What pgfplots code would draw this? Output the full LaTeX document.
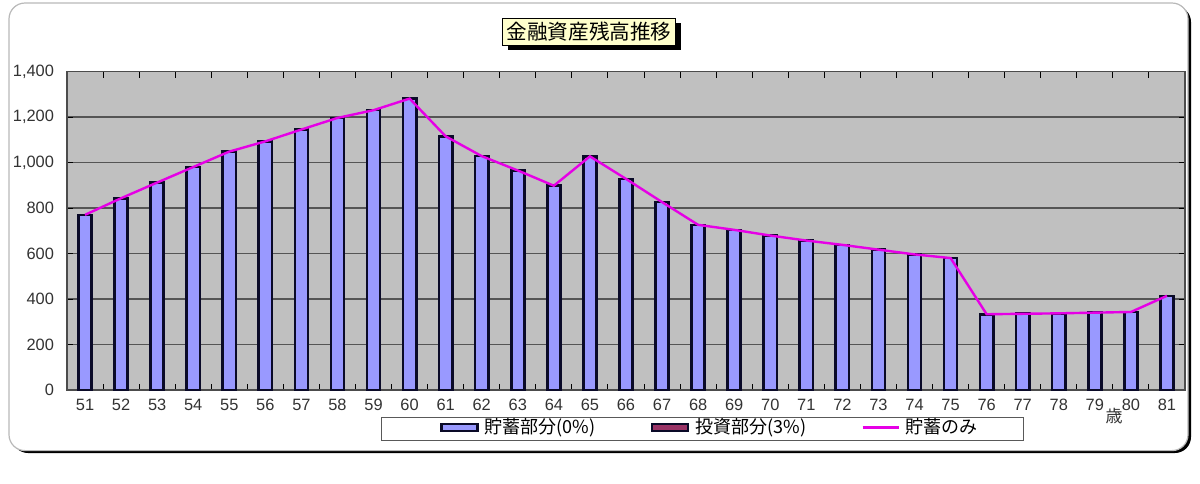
\documentclass[border=0pt]{standalone}
\usepackage{fontspec}
\setmainfont{Liberation Sans}
\newfontfamily\cjk{Noto Sans CJK JP}
\usepackage{pgfplots}
\usepackage{pgfplotstable}
\pgfplotsset{compat=1.18}
\usetikzlibrary{shadows}
\definecolor{barblue}{RGB}{153,153,255}
\definecolor{invmaroon}{RGB}{153,51,102}
\definecolor{plotbg}{RGB}{192,192,192}
\definecolor{gridc}{RGB}{85,85,85}
\definecolor{titlebg}{RGB}{255,255,204}
\definecolor{lineMag}{RGB}{230,0,230}
\definecolor{barEdge}{RGB}{10,10,40}

\pgfplotstableread{
age val
51 770
52 843
53 912
54 980
55 1048
56 1093
57 1145
58 1196
59 1230
60 1281
61 1115
62 1028
63 965
64 898
65 1027
66 928
67 826
68 726
69 704
70 679
71 657
72 638
73 617
74 596
75 580
76 333
77 335
78 337
79 340
80 343
81 414
}\savings

\pgfplotsset{
  barleg/.style={legend image code/.code={\draw[##1] (0pt,-1.7pt) rectangle (18pt,1.7pt);}},
  lineleg/.style={legend image code/.code={\draw[##1] (0pt,0pt) -- (18pt,0pt);}},
}

\begin{document}
\begin{tikzpicture}
\useasboundingbox (0,0) rectangle (600pt,-241.5pt);
% outer frame with shadow
\fill[black, rounded corners=8pt] (6pt,-3pt) rectangle (595.5pt,-226.5pt);
\draw[gray!55, fill=white, rounded corners=8pt, line width=0.6pt] (4.5pt,-1.5pt) rectangle (594pt,-225.3pt);
% title
\node[fill=titlebg, draw=black, line width=0.6pt, minimum width=86.5pt, minimum height=13.5pt, inner sep=0pt,
      drop shadow={shadow xshift=2.5pt, shadow yshift=-2.5pt, fill=black, opacity=1},
      font=\cjk\fontsize{10.3}{12}\selectfont] at (294.5pt,-15.8pt) {金融資産残高推移};
% legend box
\draw[gray!70!black, fill=white, line width=0.5pt] (190.8pt,-208.5pt) rectangle (511.5pt,-220pt);
\begin{axis}[
  at={(33.5pt,-195pt)}, anchor=south west,
  scale only axis, width=559pt, height=159.25pt,
  xmin=50.5, xmax=81.5, ymin=0, ymax=1400,
  xtick={51,...,81},
  minor xtick={51.5,52.5,...,80.5},
  ytick={0,200,...,1400},
  tick align=inside,
  major tick length=3pt, minor tick length=3pt,
  major x tick style={draw=none},
  minor x tick style={black, line width=0.5pt},
  major y tick style={black, line width=0.5pt},
  ymajorgrids,
  major grid style={gridc, line width=0.7pt},
  axis background/.style={fill=plotbg},
  axis line style={gray!60!black, line width=0.6pt},
  /pgf/number format/assume math mode=true,
  /pgf/number format/1000 sep={,},
  xticklabel style={font=\fontsize{8.2}{9}\selectfont, text=black!80, yshift=-1pt},
  yticklabel style={font=\fontsize{8.2}{9}\selectfont, text=black!80, xshift=-3pt},
  legend style={draw=none, fill=none, at={(0.3335,-0.1178)}, anchor=west,
     inner sep=0pt, font=\cjk\fontsize{9}{10}\selectfont, legend columns=3,
     /tikz/every odd column/.append style={column sep=1pt}},
  legend cell align=left,
]
\addplot[ybar, bar width=6.6pt, fill=barblue, draw=barEdge, line width=1.3pt, barleg] table[x=age, y=val] {\savings};
\addlegendentry{\makebox[81pt][l]{貯蓄部分(0\%)}}
\addlegendimage{fill=invmaroon, draw=barEdge, line width=1.3pt, barleg}
\addlegendentry{\makebox[81pt][l]{投資部分(3\%)}}
\addplot[lineMag, line width=1.2pt, mark=none, lineleg] table[x=age, y=val] {\savings};
\addlegendentry{貯蓄のみ}
\end{axis}
\node[font=\cjk\fontsize{8.5}{10}\selectfont, text=black!80] at (557pt,-208pt) {歳};
\end{tikzpicture}
\end{document}
